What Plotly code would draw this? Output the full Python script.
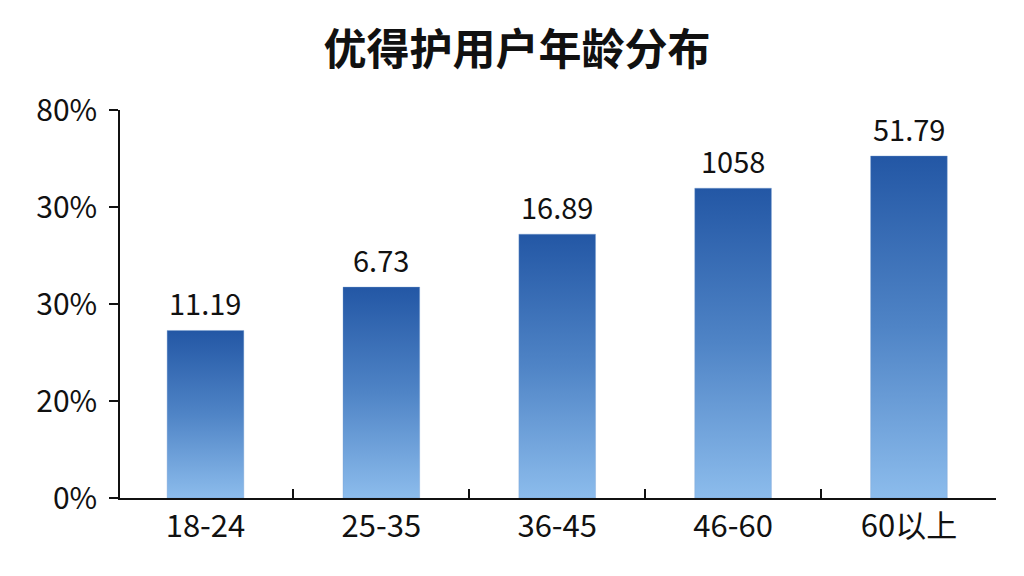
import plotly.graph_objects as go

# ---- data ----
categories = ["18-24", "25-35", "36-45", "46-60", "60以上"]
bar_heights = [1.727, 2.174, 2.720, 3.194, 3.526]   # in y-axis tick-slot units
bar_labels = ["11.19", "6.73", "16.89", "1058", "51.79"]
ytick_vals = [0, 1, 2, 3, 4]
ytick_text = ["0%", "20%", "30%", "30%", "80%"]
title_text = "优得护用户年龄分布"

FONT = "Noto Sans CJK SC"
BAR_HALF = 0.218
TOP_COLOR = "#2357A5"
BOTTOM_COLOR = "#8CBCEC"

fig = go.Figure()

for i, (cat, h) in enumerate(zip(categories, bar_heights)):
    xs = [i - BAR_HALF, i + BAR_HALF, i + BAR_HALF, i - BAR_HALF, i - BAR_HALF]
    ys = [0, 0, h, h, 0]
    fig.add_trace(go.Scatter(
        x=xs, y=ys, mode="lines", fill="toself",
        line=dict(width=0.6, color="rgba(120,160,210,0.6)"),
        fillgradient=dict(type="vertical",
                          colorscale=[[0, BOTTOM_COLOR], [0.5, "#4F84C6"], [1, TOP_COLOR]]),
        name=cat, showlegend=False, hoverinfo="skip",
    ))

for i, (h, lab) in enumerate(zip(bar_heights, bar_labels)):
    fig.add_annotation(x=i, y=h, text=lab, showarrow=False,
                       yanchor="bottom", yshift=5,
                       font=dict(family=FONT, size=29, color="#111111"))

# page body has an 8px margin, so margins are compensated
fig.update_layout(
    width=1024, height=576,
    paper_bgcolor="white", plot_bgcolor="white",
    margin=dict(l=112, r=36, t=102, b=86),
    font=dict(family=FONT, color="#111111"),
    title=dict(text="<b>" + title_text + "</b>", x=0.497, xanchor="center",
               y=0.927, yanchor="middle",
               font=dict(family=FONT, size=43, color="#111111")),
)

fig.update_xaxes(
    range=[-0.486, 4.495], showgrid=False, zeroline=False,
    showline=True, linecolor="#111111", linewidth=2,
    tickmode="array", tickvals=list(range(len(categories))), ticktext=categories,
    ticks="", tickfont=dict(family=FONT, size=31, color="#111111"),
    minor=dict(tickmode="linear", tick0=0.5, dtick=1, ticks="inside",
               ticklen=9, tickwidth=1.5, tickcolor="#111111", showgrid=False),
    fixedrange=True,
)
fig.update_yaxes(
    range=[0, 4], showgrid=False, zeroline=False,
    showline=True, linecolor="#111111", linewidth=1.5,
    tickmode="array", tickvals=ytick_vals, ticktext=ytick_text,
    ticks="outside", ticklen=9, tickwidth=1.5, tickcolor="#111111",
    tickfont=dict(family=FONT, size=30, color="#111111"),
    ticklabelstandoff=6,
    fixedrange=True,
)

fig.write_html("out.html")
